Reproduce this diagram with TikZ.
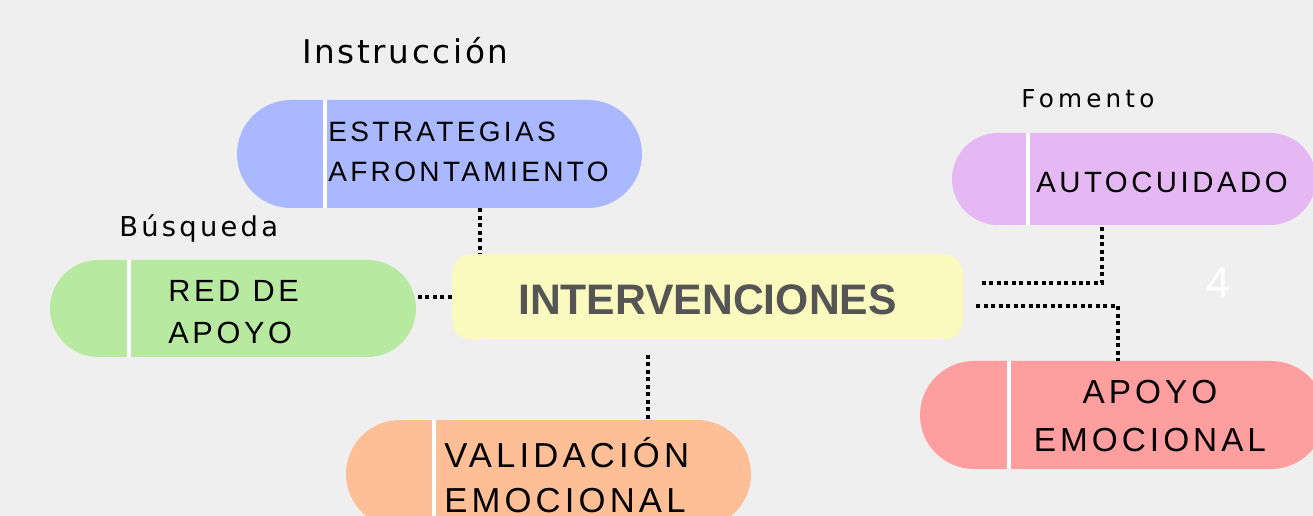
\documentclass[tikz,border=0pt]{standalone}
\usepackage{fontspec}
\setmainfont{Liberation Sans}
\newfontfamily\rotulofont{DejaVu Sans}

\definecolor{fondo}{HTML}{EFEFEF}
\definecolor{azul}{HTML}{AAB9FF}
\definecolor{verde}{HTML}{B7E9A0}
\definecolor{amarillo}{HTML}{FAF9BE}
\definecolor{morado}{HTML}{E5B8F4}
\definecolor{rojo}{HTML}{FF9E9E}
\definecolor{naranja}{HTML}{FFBF96}
\definecolor{gristexto}{HTML}{555555}

\newcommand\letras[3]{\fontsize{#1}{#2}\selectfont\addfontfeature{LetterSpace=#3}}

\begin{document}
\begin{tikzpicture}[x=0.75pt, y=-0.75pt,
    pill/.style={inner sep=0pt, minimum width=303.75pt, minimum height=81pt, rounded corners=40.5pt},
    divisor/.style={white, line width=3pt},
    texto/.style={inner sep=0pt, align=left, anchor=north west},
    rotulo/.style={inner sep=0pt, anchor=base west},
    conector/.style={line width=3pt, dash pattern=on 3pt off 2.6pt}]

  \clip (0,0) rectangle (1313,516);
  \fill[fondo] (0,0) rectangle (1313,516);

  % central
  \node[fill=amarillo, rounded corners=15pt, minimum width=383.25pt, minimum height=64.5pt] (intervenciones) at (707.5,297) {};
  \node[anchor=base, inner sep=0pt, text=gristexto, font=\fontsize{32}{38}\selectfont\bfseries] (titulo) at (707.5,315) {INTERVENCIONES};

  % ramas
  \node[pill, fill=azul] (estrategias) at (439.5,154) {};
  \draw[divisor] ([xshift=66pt]estrategias.north west) -- ([xshift=66pt]estrategias.south west);
  \node[texto, font={\letras{21}{30}{12}}] (testrategias) at (328,122) {ESTRATEGIAS\\AFRONTAMIENTO};
  \node[rotulo, font={\rotulofont\letras{24.5}{30}{8}}] (instruccion) at (302,64) {Instrucción};

  \node[pill, fill=verde, minimum width=274.5pt, minimum height=72.75pt, rounded corners=36.375pt] (redapoyo) at (233,308.5) {};
  \draw[divisor] ([xshift=59.6pt]redapoyo.north west) -- ([xshift=59.6pt]redapoyo.south west);
  \node[texto, font={\letras{23}{31.5}{12}}] (tredapoyo) at (168,280) {RED DE\\APOYO};
  \node[rotulo, font={\rotulofont\letras{20.5}{25}{12}}] (busqueda) at (119,237) {Búsqueda};

  \node[pill, fill=morado, minimum width=273pt, minimum height=69pt, rounded corners=34.5pt] (autocuidado) at (1134,179) {};
  \draw[divisor] ([xshift=57pt]autocuidado.north west) -- ([xshift=57pt]autocuidado.south west);
  \node[texto, font={\letras{22}{30}{12}}] (tautocuidado) at (1036,172) {AUTOCUIDADO};
  \node[rotulo, font={\rotulofont\letras{18.5}{23}{17}}] (fomento) at (1021,108) {Fomento};

  \node[pill, fill=rojo] (apoyo) at (1122.5,415) {};
  \draw[divisor] ([xshift=66.75pt]apoyo.north west) -- ([xshift=66.75pt]apoyo.south west);
  \node[texto, align=center, anchor=north, font={\letras{25}{36}{12}}] (tapoyo) at (1150,380) {APOYO\\EMOCIONAL};

  \node[pill, fill=naranja] (validacion) at (548.5,474) {};
  \draw[divisor] ([xshift=66.4pt]validacion.north west) -- ([xshift=66.4pt]validacion.south west);
  \node[texto, font={\letras{26}{33.75}{12}}] (tvalidacion) at (444,437) {VALIDACIÓN\\EMOCIONAL};

  \node[rotulo, anchor=base, text=white, font=\fontsize{32.5}{38}\selectfont] (numero) at (1218.5,298) {4};

  % conectores
  \draw[conector] ([xshift=30.4pt]estrategias.south) -- ([xshift=30.4pt]estrategias.south |- intervenciones.north);
  \draw[conector] (intervenciones.west) -- (intervenciones.west -| redapoyo.east);
  \draw[conector] ([xshift=-44.6pt,yshift=-11pt]intervenciones.south) -- ([xshift=-44.6pt]intervenciones.south |- validacion.north);
  \draw[conector] ([xshift=14pt,yshift=10.5pt]intervenciones.east) -| ([xshift=-24pt]autocuidado.south);
  \draw[conector] ([xshift=9.75pt,yshift=-6.75pt]intervenciones.east) -| ([xshift=-3.4pt]apoyo.north);

\end{tikzpicture}
\end{document}
